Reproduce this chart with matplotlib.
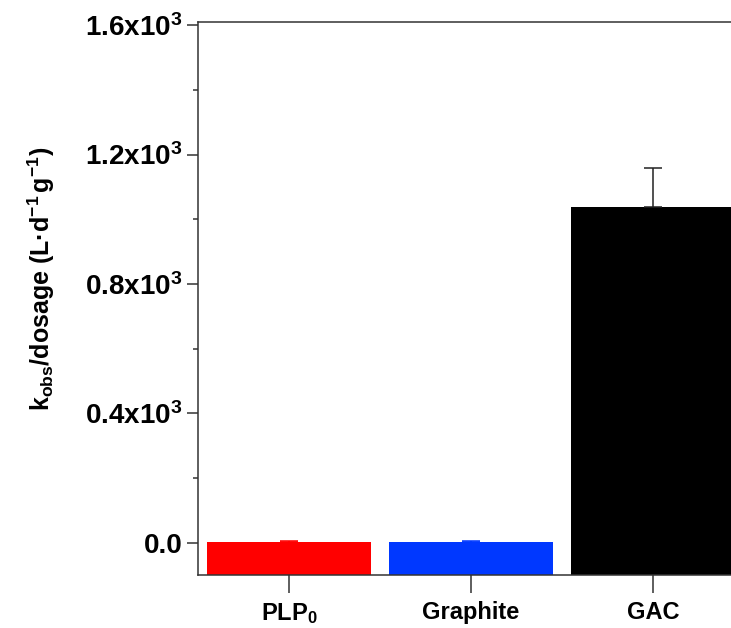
import matplotlib
matplotlib.use("Agg")
import matplotlib.pyplot as plt
from matplotlib.ticker import FixedLocator
import numpy as np

categories = ["PLP$_\\mathbf{0}$", "Graphite", "GAC"]
values = [1.0, 1.0, 1039.0]
errors = [4.0, 4.0, 121.0]
colors = ["#FF0000", "#0038FF", "#000000"]
yticks = [0, 400, 800, 1200, 1600]
ytick_labels = ["0.0", r"0.4x10$^\mathbf{3}$", r"0.8x10$^\mathbf{3}$",
                r"1.2x10$^\mathbf{3}$", r"1.6x10$^\mathbf{3}$"]
yminor = [200, 600, 1000, 1400]

plt.rcParams['font.family'] = ['Liberation Sans', 'DejaVu Sans']
plt.rcParams['mathtext.fontset'] = 'custom'
plt.rcParams['mathtext.rm'] = 'Liberation Sans'
plt.rcParams['mathtext.it'] = 'Liberation Sans'
plt.rcParams['mathtext.bf'] = 'Liberation Sans:bold'

fig = plt.figure(figsize=(7.31, 6.28), dpi=100)
ax = fig.add_axes([198/731, 53/628, 546/731, 553/628])

ymin, ymax = -100, 1610
x = np.arange(len(categories))
vals = np.array(values)
ax.bar(x, vals - ymin, bottom=ymin, width=0.9, color=colors, zorder=2)
for xi, v, e, c in zip(x, vals, errors, colors):
    ax.errorbar([xi], [v], yerr=[[0], [e]], fmt='none',
                ecolor=c if c != "#000000" else "#222222",
                elinewidth=1.1, capsize=6.8, capthick=1.1, zorder=3)

ax.set_xlim(-0.5, 2.5)
ax.set_ylim(ymin, ymax)
ax.set_xticks(x)
ax.set_xticklabels(categories, fontsize=17, fontweight='bold')
ax.set_yticks(yticks)
ax.set_yticklabels(ytick_labels, fontsize=20, fontweight='bold')
ax.yaxis.set_minor_locator(FixedLocator(yminor))

for s in ax.spines.values():
    s.set_linewidth(1.1)
    s.set_color("#333333")
ax.tick_params(axis='y', which='major', length=8, width=1.1, color="#333333", pad=3)
ax.tick_params(axis='y', which='minor', length=3.5, width=1.1, color="#333333")
ax.tick_params(axis='x', which='major', length=13, width=1.1, color="#333333", pad=6)

ax.set_ylabel(r"k$_\mathbf{obs}$/dosage (L·d$^\mathbf{-1}$$\,$g$^\mathbf{-1}$)",
              fontsize=18, fontweight='bold')
ax.yaxis.set_label_coords(-0.258, 0.535)

fig.savefig("out.png", dpi=100)
